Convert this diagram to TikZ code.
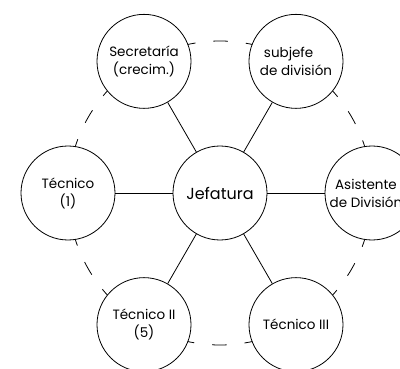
\documentclass[tikz,border=0pt]{standalone}
\usepackage{fontspec}
\setmainfont{Poppins}
\usetikzlibrary{calc}
\begin{document}
\begin{tikzpicture}[x=1pt,y=1pt,
  unit/.style={circle,draw,fill=white,line width=0.8pt,minimum size=94pt,inner sep=0pt,font=\fontsize{13.5}{18}\selectfont,align=center},
  spoke/.style={line width=0.8pt},
  ring/.style={line width=0.8pt,dash pattern=on 14.5pt off 18pt,dash phase=24.5pt}]
\useasboundingbox (0,0) rectangle (400,368);
\fill[white] (0,0) rectangle (400,368);
\coordinate (cj) at (220,175);
\foreach \n/\a in {p1/120,p2/60,p3/0,p4/-60,p5/-120,p6/180}{
  \coordinate (\n) at ($(cj)+(\a:152)$);
}
\foreach \n/\a in {p1/120,p2/60,p3/0,p4/-60,p5/-120,p6/180}{
  \draw[ring] (\n) arc[start angle=\a,delta angle=-60,radius=152];
}
\node[unit,font=\fontsize{16}{20}\selectfont] (jef) at (cj) {Jefatura};
\node[unit] (sec) at (p1) {Secretaría\\(crecim.)};
\node[unit,align=left] (sub) at (p2) {\hspace*{4pt}subjefe\\de división};
\node[unit] (asi) at (p3) {\hspace*{-12pt}Asistente\\\hspace*{-12pt}de División};
\node[unit] (t3) at (p4) {Técnico III};
\node[unit] (t2) at (p5) {Técnico II\\(5)};
\node[unit] (t1) at (p6) {Técnico\\(1)};
\foreach \n in {sec,sub,asi,t3,t2,t1}{
  \draw[spoke] (jef) -- (\n);
}
\end{tikzpicture}
\end{document}
